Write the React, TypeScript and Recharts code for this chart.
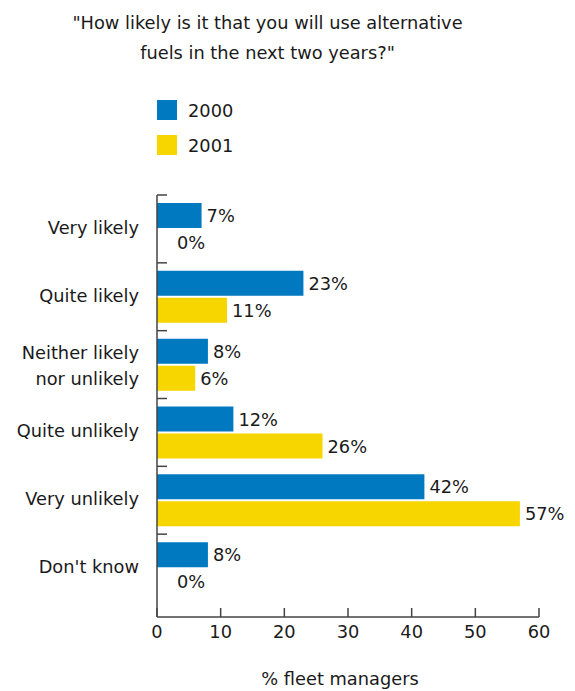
import { BarChart, Bar, XAxis, YAxis, Legend, LabelList, Rectangle } from "recharts";

// "How likely is it that you will use alternative fuels in the next two years?"
// horizontal grouped bars, 2000 vs 2001

const categories = [
  "Very likely",
  "Quite likely",
  "Neither likely\nnor unlikely",
  "Quite unlikely",
  "Very unlikely",
  "Don't know",
];
const values2000 = [7, 23, 8, 12, 42, 8];
const values2001 = [0, 11, 6, 26, 57, 0];
const xTicks = [0, 10, 20, 30, 40, 50, 60];

const data = categories.map((name, i) => ({
  name,
  y2000: values2000[i],
  y2001: values2001[i],
}));

const FONT = "'DejaVu Sans', Verdana, sans-serif";
const FS = 17.8;
const INK = "#1a1a1a";
const BLUE = "#0079c1";
const YELLOW = "#f7d600";

const W = 575;
const H = 691;
const TOP = 195;
const AXIS_Y = 617;
const BOTTOM_PAD = 15;
const HALF_BAND = (AXIS_Y - BOTTOM_PAD - TOP) / categories.length / 2;

function YTick(props: any) {
  const { x, y, payload } = props;
  const lines = String(payload.value).split("\n");
  const top = lines.length > 1 ? y - 13 : y - 2;
  return (
    <g>
      <line x1={x} x2={x + 10} y1={y - HALF_BAND} y2={y - HALF_BAND} stroke="#444" strokeWidth={1.5} />
      <text
        x={x - 18}
        y={top}
        textAnchor="end"
        dominantBaseline="central"
        fontSize={FS}
        fontFamily={FONT}
        fill={INK}
      >
        {lines.map((l, i) => (
          <tspan key={i} x={x - 18} dy={i === 0 ? 0 : 26}>
            {l}
          </tspan>
        ))}
      </text>
    </g>
  );
}

function XTick(props: any) {
  const { x, y, payload } = props;
  return (
    <g>
      <line x1={x} x2={x} y1={y} y2={y - 9} stroke="#444" strokeWidth={1.5} />
      <text x={x} y={y + 21} textAnchor="middle" fontSize={FS} fontFamily={FONT} fill={INK}>
        {payload.value}
      </text>
    </g>
  );
}

// zero bars get a 1px placeholder (minPointSize) so their label still shows; the rect itself is skipped
function BarShape(props: any) {
  if (!props.value) return null;
  return <Rectangle {...props} />;
}

function ValueLabel(props: any) {
  const { x, y, width, height, value } = props;
  const gap = value === 0 ? 19 : 5;
  return (
    <text
      x={x + width + gap}
      y={y + height / 2}
      dominantBaseline="central"
      fontSize={FS}
      fontFamily={FONT}
      fill={INK}
    >
      {value}%
    </text>
  );
}

function LegendBox(props: any) {
  const { payload } = props;
  return (
    <div style={{ fontFamily: FONT, fontSize: FS, color: INK }}>
      {payload.map((p: any) => (
        <div key={p.value} style={{ display: "flex", alignItems: "center", height: 20, marginBottom: 15 }}>
          <span style={{ width: 20, height: 20, background: p.color, marginRight: 11, display: "inline-block" }} />
          {p.value}
        </div>
      ))}
    </div>
  );
}

export default function App() {
  return (
    <div style={{ position: "absolute", left: 0, top: 0, width: W, height: H, background: "#fff" }}>
      <div
        style={{
          position: "absolute",
          left: 0,
          top: 8,
          width: 535,
          textAlign: "center",
          fontFamily: FONT,
          fontSize: FS,
          lineHeight: "30px",
          color: INK,
        }}
      >
        "How likely is it that you will use alternative
        <br />
        fuels in the next two years?"
      </div>
      <BarChart
        width={W}
        height={H}
        data={data}
        layout="vertical"
        margin={{ top: TOP, right: 36, left: 0, bottom: 0 }}
        barSize={25}
        barGap={2}
      >
        <XAxis
          type="number"
          domain={[0, 60]}
          ticks={xTicks}
          height={74}
          tick={<XTick />}
          tickLine={false}
          tickSize={0}
          tickMargin={0}
          axisLine={{ stroke: "#444", strokeWidth: 1.5 }}
          label={{
            value: "% fleet managers",
            position: "insideBottom",
            offset: 6,
            dx: -8,
            fontSize: FS,
            fontFamily: FONT,
            fill: INK,
          }}
        />
        <YAxis
          type="category"
          dataKey="name"
          width={157}
          padding={{ top: 0, bottom: BOTTOM_PAD }}
          tick={<YTick />}
          tickLine={false}
          tickSize={0}
          tickMargin={0}
          interval={0}
          axisLine={{ stroke: "#444", strokeWidth: 1.5 }}
        />
        <Legend
          layout="vertical"
          align="center"
          verticalAlign="middle"
          wrapperStyle={{ top: 100, left: 157, width: "auto" }}
          content={<LegendBox />}
        />
        <Bar dataKey="y2000" name="2000" fill={BLUE} minPointSize={1} shape={<BarShape />} isAnimationActive={false}>
          <LabelList dataKey="y2000" content={<ValueLabel />} />
        </Bar>
        <Bar dataKey="y2001" name="2001" fill={YELLOW} minPointSize={1} shape={<BarShape />} isAnimationActive={false}>
          <LabelList dataKey="y2001" content={<ValueLabel />} />
        </Bar>
      </BarChart>
    </div>
  );
}
